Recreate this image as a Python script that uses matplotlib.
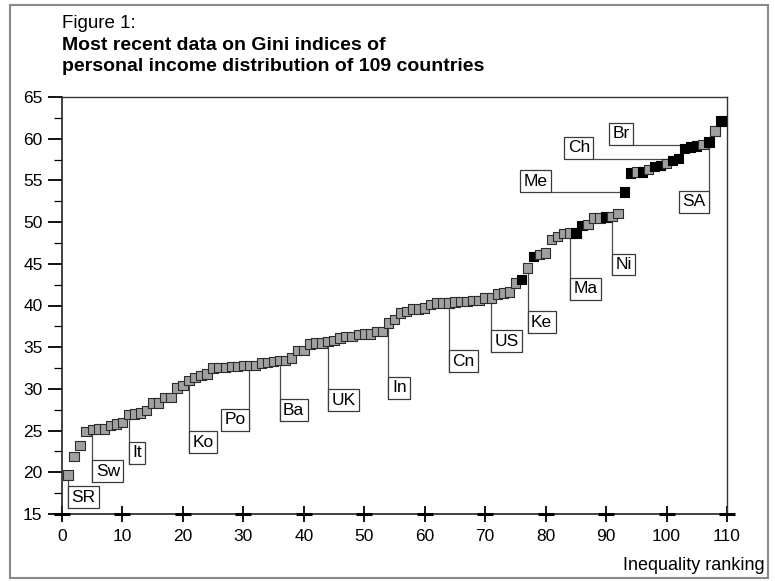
import matplotlib.pyplot as plt
from matplotlib.patches import Rectangle
from matplotlib.ticker import MultipleLocator

plt.rcParams['font.family'] = ['Liberation Sans', 'DejaVu Sans']

# Gini index of each country, sorted by inequality ranking 1..109
gini = [19.7, 21.9, 23.2, 24.9, 25.1, 25.2, 25.2, 25.6, 25.8, 26.0,
        26.9, 27.0, 27.1, 27.4, 28.3, 28.3, 29.0, 29.0, 30.1, 30.4,
        31.0, 31.4, 31.6, 31.8, 32.5, 32.6, 32.6, 32.7, 32.7, 32.8,
        32.8, 32.8, 33.1, 33.2, 33.3, 33.4, 33.4, 33.7, 34.6, 34.6,
        35.4, 35.5, 35.5, 35.7, 35.8, 36.1, 36.3, 36.3, 36.5, 36.6,
        36.6, 36.9, 36.9, 37.9, 38.3, 39.1, 39.3, 39.6, 39.6, 39.7,
        40.1, 40.3, 40.3, 40.3, 40.4, 40.5, 40.5, 40.6, 40.6, 40.9,
        40.9, 41.4, 41.5, 41.6, 42.7, 43.1, 44.5, 45.9, 46.1, 46.3,
        47.9, 48.3, 48.6, 48.7, 48.7, 49.6, 49.7, 50.5, 50.5, 50.6,
        50.7, 51.0, 53.6, 55.9, 56.0, 56.0, 56.3, 56.7, 56.8, 57.0,
        57.4, 57.6, 58.8, 59.0, 59.1, 59.3, 59.6, 60.9, 62.1]
ranks = list(range(1, len(gini) + 1))

# ranks drawn as black squares
black_ranks = [76, 78, 85, 86, 90, 93, 94, 96, 98, 99, 101, 102,
               103, 104, 105, 107, 109]

# labels under the curve: name, rank, box bottom, side of the leader line
low_labels = [("SR", 1, 15.7, "left"), ("Sw", 5, 18.8, "left"),
              ("It", 11, 21.0, "left"), ("Ko", 21, 22.3, "left"),
              ("Po", 31, 25.0, "right"), ("Ba", 36, 26.1, "left"),
              ("UK", 44, 27.3, "left"), ("In", 54, 28.8, "left"),
              ("Cn", 64, 32.0, "left"), ("US", 71, 34.4, "left"),
              ("Ke", 77, 36.7, "left"), ("Ma", 84, 40.7, "left"),
              ("Ni", 91, 43.6, "left"), ("SA", 107, 51.1, "right")]
# labels above the curve: name, rank, x of the box right edge
high_labels = [("Me", 93, 80.9), ("Ch", 102, 87.9), ("Br", 106, 94.5)]

fig = plt.figure(figsize=(7.75, 5.81), dpi=100)
ax = fig.add_axes([62 / 775, 1 - 514 / 581, 665 / 775, 417 / 581])

colors = ['black' if r in black_ranks else '#a0a0a0' for r in ranks]
edges = ['black' if r in black_ranks else '#2b2b2b' for r in ranks]
ax.scatter(ranks, gini, marker='s', s=46, c=colors, edgecolors=edges,
           linewidths=0.8, zorder=3, clip_on=False)

line_kw = dict(color='#4a4a4a', lw=0.9, zorder=2)
lab_fs = 12.5
box_kw = dict(boxstyle='square,pad=0.2', fc='white', ec='#3a3a3a', lw=0.9)
pad = 0.2 * lab_fs

for name, r, bottom, side in low_labels:
    v = gini[r - 1]
    ax.plot([r, r], [v, bottom], **line_kw)
    if side == "left":
        ax.annotate(name, xy=(r, bottom), xytext=(pad, pad), textcoords='offset points',
                    ha='left', va='bottom', fontsize=lab_fs, bbox=box_kw, zorder=4)
    else:
        ax.annotate(name, xy=(r, bottom), xytext=(-pad, pad), textcoords='offset points',
                    ha='right', va='bottom', fontsize=lab_fs, bbox=box_kw, zorder=4)

for name, r, xr in high_labels:
    v = gini[r - 1]
    ax.plot([xr, r], [v, v], **line_kw)
    ax.annotate(name, xy=(xr, v), xytext=(-pad, pad), textcoords='offset points',
                ha='right', va='bottom', fontsize=lab_fs, bbox=box_kw, zorder=4)

ax.set_xlim(0, 110)
ax.set_ylim(15, 65)
ax.xaxis.set_major_locator(MultipleLocator(10))
ax.yaxis.set_major_locator(MultipleLocator(5))
ax.yaxis.set_minor_locator(MultipleLocator(2.5))
ax.tick_params(axis='x', direction='inout', length=11, width=1.3, pad=5,
               labelsize=12.5, color='black')
ax.tick_params(axis='y', which='major', direction='out', length=10, width=1.3,
               pad=4, labelsize=12.5)
ax.tick_params(axis='y', which='minor', direction='out', length=6, width=0.9)
# the x ticks are drawn as small crosses on the axis
xt = [t for t in ax.get_xticks() if 0 <= t <= 110]
ax.plot(xt, [15] * len(xt), ls='none', marker='_', ms=11, mew=2.2,
        color='black', clip_on=False, zorder=5)
for s in ['left', 'bottom']:
    ax.spines[s].set_linewidth(1.2)
    ax.spines[s].set_color('#222222')
for s in ['top', 'right']:
    ax.spines[s].set_linewidth(1.0)
    ax.spines[s].set_color('#333333')

fig.text(62 / 775, 1 - 28 / 581, "Figure 1:", fontsize=13.5, va='baseline')
fig.text(62 / 775, 1 - 50 / 581, "Most recent data on Gini indices of",
         fontsize=14, fontweight='bold', va='baseline')
fig.text(62 / 775, 1 - 71 / 581, "personal income distribution of 109 countries",
         fontsize=14, fontweight='bold', va='baseline')
fig.text(765 / 775, 1 - 566 / 581, "Inequality ranking", fontsize=13,
         ha='right', va='center')

fig.patches.append(Rectangle((10 / 775, 3 / 581), 758 / 775, 573 / 581,
                             transform=fig.transFigure, fill=False,
                             ec='#8a8a8a', lw=1.5))

fig.savefig('out.png', dpi=100)
